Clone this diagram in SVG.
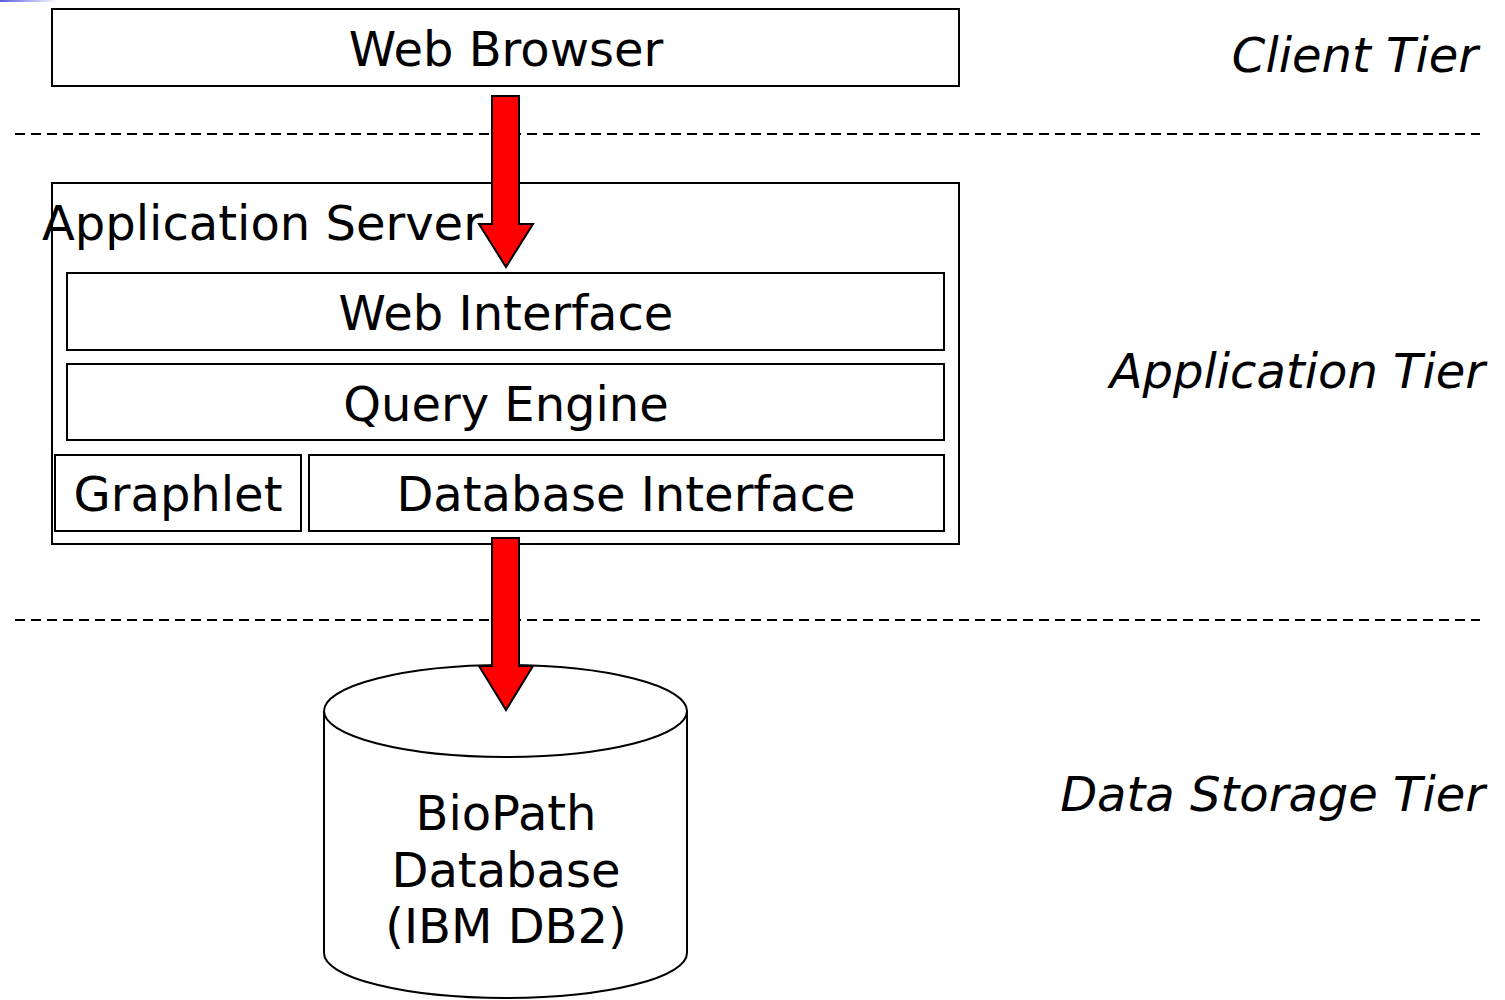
<svg xmlns="http://www.w3.org/2000/svg" width="1505" height="1000" viewBox="0 0 1505 1000">
<style>
.box{fill:#fff;stroke:#000;stroke-width:2}
.t{font-family:"DejaVu Sans",sans-serif;font-size:48px;fill:#000;text-anchor:middle}
.tier{font-family:"DejaVu Sans",sans-serif;font-size:48px;font-style:italic;fill:#000;text-anchor:end}
.dash{stroke:#000;stroke-width:2;stroke-dasharray:10,6;fill:none}
.arrow{fill:#f00;stroke:#000;stroke-width:2;stroke-linejoin:miter}
</style>
<defs>
<linearGradient id="bl" x1="0" x2="1" y1="0" y2="0">
<stop offset="0" stop-color="#5a5ae0"/>
<stop offset="1" stop-color="#fff"/>
</linearGradient>
</defs>
<rect width="1505" height="1000" fill="#fff"/>
<rect x="0" y="0" width="58" height="2" fill="url(#bl)"/>
<g id="separators">
<line class="dash" x1="15" y1="134" x2="1480" y2="134"/>
<line class="dash" x1="15" y1="620" x2="1480" y2="620"/>
</g>
<g id="tiers">
<text class="tier" x="1478" y="72">Client Tier</text>
<text class="tier" x="1485" y="388">Application Tier</text>
<text class="tier" x="1485" y="811">Data Storage Tier</text>
</g>
<g id="web-browser">
<rect class="box" x="52" y="9" width="907" height="77"/>
<text class="t" x="506" y="66">Web Browser</text>
</g>
<g id="application-server">
<rect class="box" x="52" y="183" width="907" height="361"/>
<text class="t" x="42" y="240" style="text-anchor:start">Application Server</text>
</g>
<g id="web-interface">
<rect class="box" x="67" y="273" width="877" height="77"/>
<text class="t" x="506" y="330">Web Interface</text>
</g>
<g id="query-engine">
<rect class="box" x="67" y="364" width="877" height="76"/>
<text class="t" x="506" y="421">Query Engine</text>
</g>
<g id="graphlet">
<rect class="box" x="55" y="455" width="246" height="76"/>
<text class="t" x="178" y="511">Graphlet</text>
</g>
<g id="database-interface">
<rect class="box" x="309" y="455" width="635" height="76"/>
<text class="t" x="626" y="511">Database Interface</text>
</g>
<g id="biopath-database">
<path class="box" d="M324,711 L324,953 A181.5,45 0 0 0 687,953 L687,711"/>
<ellipse class="box" cx="505.5" cy="711" rx="181.5" ry="46"/>
<text class="t" x="506" y="830">BioPath</text>
<text class="t" x="506" y="887">Database</text>
<text class="t" x="506" y="943">(IBM DB2)</text>
</g>
<g id="connectors">
<path class="arrow" d="M492,96 L519,96 L519,224 L533,224 L506,267 L479,224 L492,224 Z"/>
<path class="arrow" d="M492,538 L519,538 L519,666 L533,666 L506,710 L479,666 L492,666 Z"/>
</g>
</svg>
